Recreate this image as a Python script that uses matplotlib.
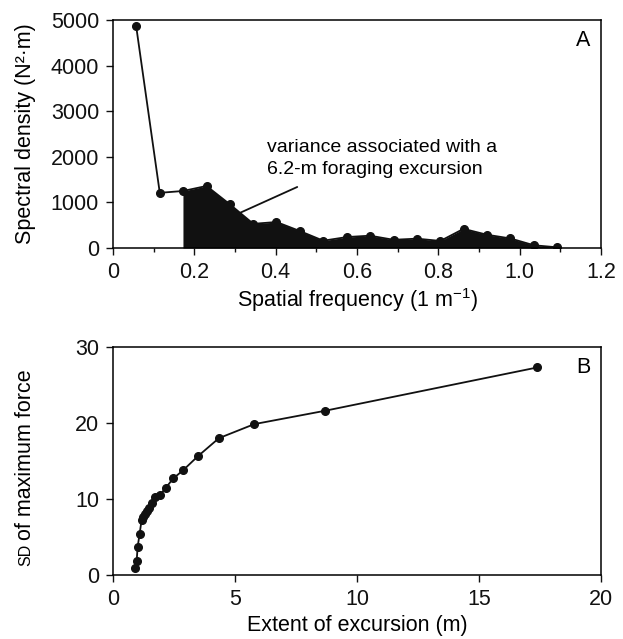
import numpy as np
import matplotlib
matplotlib.use('Agg')
import matplotlib.pyplot as plt
from matplotlib.ticker import MultipleLocator

plt.rcParams['font.family'] = ['Liberation Sans', 'DejaVu Sans']
plt.rcParams['font.size'] = 15.5
plt.rcParams['mathtext.default'] = 'regular'

# Panel A: spectrum of maximum force
freq = [0.057, 0.115, 0.172, 0.230, 0.287, 0.345, 0.402, 0.460, 0.517, 0.575,
        0.632, 0.690, 0.747, 0.805, 0.862, 0.920, 0.977, 1.035, 1.092]
density = [4860, 1210, 1250, 1360, 960, 530, 570, 370, 160, 240,
           270, 180, 205, 155, 420, 290, 210, 60, 15]
fill_start = 2  # shaded part starts at third point

# Panel B: SD of maximum force vs extent of excursion
extent = [0.90, 0.97, 1.01, 1.09, 1.17, 1.24, 1.31, 1.38, 1.47, 1.58,
          1.72, 1.92, 2.17, 2.47, 2.88, 3.47, 4.34, 5.79, 8.68, 17.38]
sd_force = [0.9, 1.9, 3.7, 5.4, 7.2, 7.6, 8.0, 8.4, 8.8, 9.5,
            10.2, 10.5, 11.5, 12.7, 13.8, 15.6, 18.0, 19.85, 21.6, 27.3]

W, H = 623, 639
fig = plt.figure(figsize=(W / 100, H / 100), dpi=100)
ax1 = fig.add_axes([0.1814, 0.6119, 0.7833, 0.3568])
ax2 = fig.add_axes([0.1814, 0.1002, 0.7833, 0.3568])

# --- panel A
f = np.array(freq)
d = np.array(density)
ax1.fill_between(f[fill_start:], 0, d[fill_start:], color='#111111', lw=0)
ax1.plot(f, d, '-o', color='#111111', lw=1.3, ms=5.5)
ax1.set_xlim(0, 1.2)
ax1.set_ylim(0, 5000)
ax1.xaxis.set_minor_locator(MultipleLocator(0.1))
ax1.yaxis.set_major_locator(MultipleLocator(1000))
ax1.set_xticks([0, 0.2, 0.4, 0.6, 0.8, 1.0, 1.2])
ax1.set_xticklabels(['0', '0.2', '0.4', '0.6', '0.8', '1.0', '1.2'])
ax1.text(0.963, 0.908, 'A', transform=ax1.transAxes, ha='center', va='center')
ax1.text(0.379, 1963, 'variance associated with a\n6.2-m foraging excursion',
         ha='left', va='center', fontsize=14, linespacing=1.4)
ax1.annotate('', xy=(0.312, 770), xytext=(0.453, 1338),
             arrowprops=dict(arrowstyle='-', color='#111111', lw=1.3,
                             shrinkA=0, shrinkB=0))

# --- panel B
ax2.plot(extent, sd_force, '-o', color='#111111', lw=1.3, ms=5.5)
ax2.set_xlim(0, 20)
ax2.set_ylim(0, 30)
ax2.xaxis.set_major_locator(MultipleLocator(5))
ax2.yaxis.set_major_locator(MultipleLocator(10))
ax2.text(0.963, 0.908, 'B', transform=ax2.transAxes, ha='center', va='center')

# axis labels placed in figure pixels
fig.text(26 / W, 1 - 134 / H, 'Spectral density (N²·m)', rotation=90,
         ha='center', va='center')
fig.text(357 / W, 1 - 300 / H, 'Spatial frequency (1 m$^{-1}$)',
         ha='center', va='center')
fig.text(357 / W, 1 - 625 / H, 'Extent of excursion (m)',
         ha='center', va='center')
# small-caps "SD"
fig.text(26 / W, 1 - 566 / H, 'SD', rotation=90, ha='center', va='bottom',
         fontsize=11.5)
fig.text(26 / W, 1 - 540 / H, 'of maximum force', rotation=90,
         ha='center', va='bottom')

for ax in (ax1, ax2):
    for s in ax.spines.values():
        s.set_linewidth(1.1)
    ax.tick_params(which='both', direction='out', width=1, colors='#111111',
                   pad=5)
    ax.tick_params(which='major', length=5)
    ax.tick_params(which='minor', length=3)

fig.savefig('out.png', dpi=100)
